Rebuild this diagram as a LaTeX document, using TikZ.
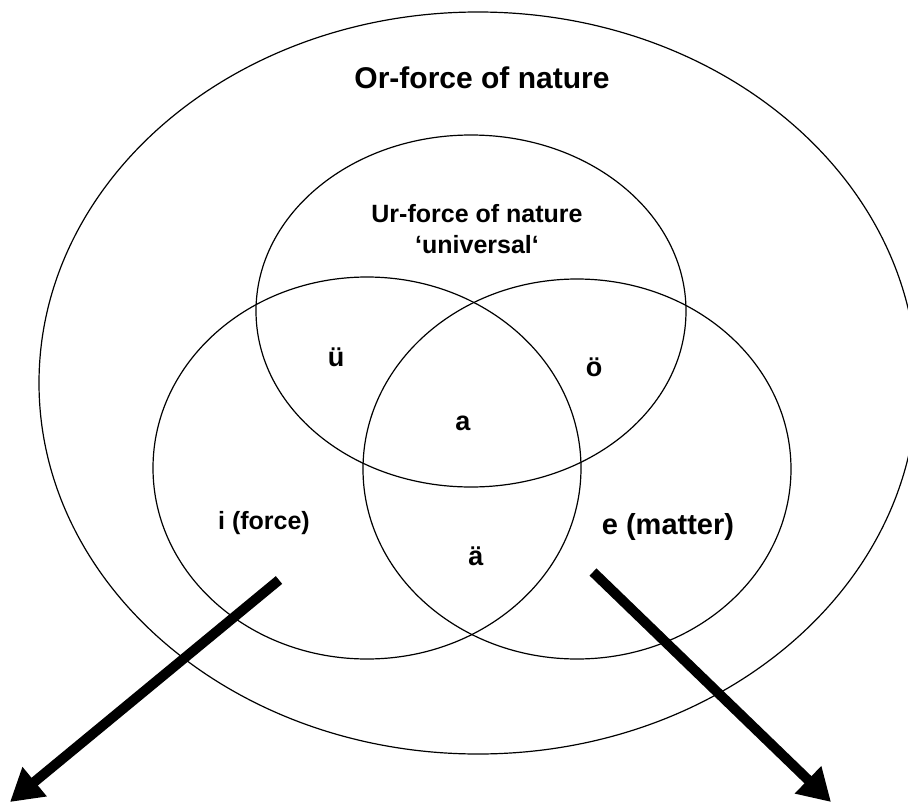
\documentclass[tikz,border=0pt]{standalone}
\usepackage{fontspec}
\setmainfont{Liberation Sans}
\usetikzlibrary{arrows.meta}
\begin{document}
\begin{tikzpicture}[x=1pt, y=-1pt]
    \def\rimWidth{1.2pt}

    \tikzset{
        setline/.style={draw=black, line width=\rimWidth},
        setlabel/.style={font=\fontsize{27}{31}\selectfont\bfseries, align=center, inner sep=0pt},
        bigarrow/.style={line width=10pt, -{Triangle[length=32pt,width=36pt]}}
    }

    % Canvas
    \useasboundingbox (0,0) rectangle (908,803);
    \clip (0,0) rectangle (908,803);

    % Draw the sets
    \draw[setline] (478,383) ellipse [x radius=439, y radius=371];
    \draw[setline] (471,311) ellipse [x radius=215, y radius=176];
    \draw[setline] (367,468) ellipse [x radius=214, y radius=191];
    \draw[setline] (577,469) ellipse [x radius=214, y radius=190];

    % Label the sets
    \node[setlabel, font=\fontsize{30}{34}\selectfont\bfseries] (orForce) at (482,78) {Or-force of nature};
    \node[setlabel, font=\fontsize{25}{31}\selectfont\bfseries] (urForce) at (477,229) {Ur-force of nature\\‘universal‘};
    \node[setlabel] (uUml) at (336,357) {ü};
    \node[setlabel] (oUml) at (594,367) {ö};
    \node[setlabel] (aMid) at (463,423) {a};
    \node[setlabel, font=\fontsize{25}{30}\selectfont\bfseries] (iForce) at (264,523) {i (force)};
    \node[setlabel] (aUml) at (476,556) {ä};
    \node[setlabel, font=\fontsize{29}{33}\selectfont\bfseries] (eMatter) at (668,527) {e (matter)};

    % Arrows out of the picture
    \coordinate (iStart) at (279,580);
    \coordinate (iEnd) at (10,802);
    \coordinate (eStart) at (593,572);
    \coordinate (eEnd) at (831,802);

    \draw[bigarrow] (iStart) -- (iEnd);
    \draw[bigarrow] (eStart) -- (eEnd);

\end{tikzpicture}
\end{document}
